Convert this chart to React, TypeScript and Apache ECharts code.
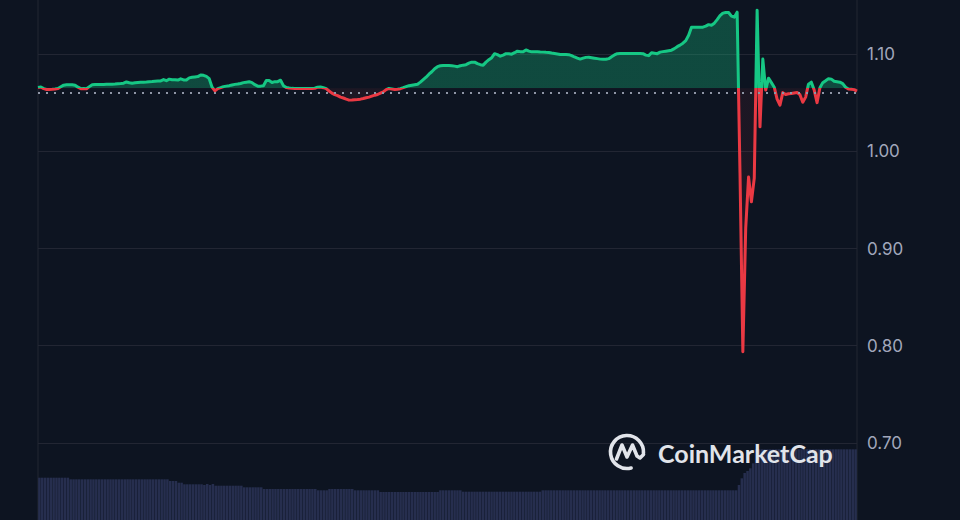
import React, { useEffect, useRef } from "react";
import * as echarts from "echarts";

// Price (USD) every 5 minutes over 24h, in blocks of 6 hours (12 points per hour)
const priceH00to05 = [
  1.0657, 1.0662, 1.0645, 1.0637, 1.0637, 1.0638, 1.0642, 1.0647, 1.0665, 1.0681, 1.0685, 1.0686,
  1.0686, 1.0681, 1.066, 1.0645, 1.0647, 1.0645, 1.0666, 1.0686, 1.0688, 1.0688, 1.0689, 1.0689,
  1.0691, 1.0691, 1.0691, 1.0693, 1.0696, 1.0698, 1.0701, 1.0714, 1.0706, 1.0701, 1.0706, 1.0709,
  1.0712, 1.0712, 1.0714, 1.0717, 1.0719, 1.0722, 1.0724, 1.0725, 1.0739, 1.0727, 1.0743, 1.0737,
  1.0737, 1.0733, 1.0746, 1.0735, 1.0735, 1.0756, 1.0762, 1.0766, 1.0769, 1.0786, 1.0782, 1.0771,
  1.0748, 1.066, 1.0622, 1.0645, 1.0655, 1.0666, 1.0671, 1.0676, 1.0683, 1.0689, 1.0693, 1.0698,
];
const priceH06to11 = [
  1.0707, 1.0712, 1.0717, 1.0707, 1.0686, 1.0671, 1.0671, 1.0676, 1.0728, 1.0728, 1.0709, 1.0717,
  1.0717, 1.0732, 1.0676, 1.0656, 1.0651, 1.0648, 1.0647, 1.0646, 1.0647, 1.0646, 1.0647, 1.0646,
  1.0646, 1.0649, 1.066, 1.0662, 1.0655, 1.0645, 1.0621, 1.0599, 1.0583, 1.0573, 1.0558, 1.0549,
  1.0537, 1.0527, 1.0529, 1.0532, 1.0534, 1.0537, 1.0544, 1.0552, 1.0558, 1.0568, 1.0578, 1.0585,
  1.0599, 1.0612, 1.0635, 1.0647, 1.0642, 1.0637, 1.064, 1.0645, 1.0655, 1.0666, 1.0676, 1.0681,
  1.0686, 1.0691, 1.0712, 1.0737, 1.0763, 1.0794, 1.0819, 1.085, 1.0871, 1.0881, 1.0884, 1.0883,
];
const priceH12to17 = [
  1.0883, 1.0881, 1.0877, 1.0871, 1.0881, 1.0887, 1.0892, 1.0907, 1.0918, 1.0918, 1.0902, 1.0892,
  1.0887, 1.0918, 1.0943, 1.0964, 1.1005, 1.0995, 1.0979, 1.099, 1.1005, 1.1005, 1.1, 1.1015,
  1.1031, 1.1026, 1.1024, 1.1044, 1.1031, 1.1024, 1.1026, 1.1026, 1.1023, 1.1021, 1.1019, 1.1018,
  1.1012, 1.1007, 1.1002, 1.0997, 1.0997, 1.0997, 1.0995, 1.0985, 1.0971, 1.0959, 1.0949, 1.0959,
  1.0967, 1.0969, 1.0964, 1.0959, 1.0954, 1.0949, 1.0947, 1.0947, 1.0954, 1.0974, 1.0992, 1.1005,
  1.1007, 1.1007, 1.1007, 1.1007, 1.1007, 1.1007, 1.1007, 1.1007, 1.1005, 1.099, 1.0985, 1.1015,
];
const priceH18to23 = [
  1.101, 1.1005, 1.1021, 1.1026, 1.1031, 1.1036, 1.1041, 1.1057, 1.1077, 1.1093, 1.1113, 1.1139,
  1.1195, 1.1278, 1.1278, 1.1278, 1.1278, 1.1278, 1.1288, 1.1304, 1.1298, 1.1319, 1.1355, 1.1396,
  1.1422, 1.1429, 1.1429, 1.1391, 1.1381, 1.1432, 0.9776, 0.7937, 0.921, 0.9735, 0.948, 0.9724,
  1.1453, 1.0252, 1.0949, 1.063, 1.0753, 1.0707, 1.066, 1.0537, 1.0475, 1.0604, 1.0585, 1.0593,
  1.0596, 1.0601, 1.0606, 1.0583, 1.0506, 1.0558, 1.0691, 1.0712, 1.063, 1.0501, 1.0655, 1.0707,
  1.0727, 1.0748, 1.0743, 1.0722, 1.0717, 1.0712, 1.0697, 1.066, 1.0642, 1.064, 1.0635, 1.0619,
];

// Rolling 24h volume (millions USD), same 5-minute steps
const volumeH00to05 = [
  42.3, 42.3, 42.3, 42.3, 42.3, 42.3, 42.3, 42.3, 42.3, 42.3, 42.3, 40.7,
  40.7, 40.7, 40.7, 40.7, 40.7, 40.7, 40.7, 40.7, 40.7, 40.7, 40.7, 40.7,
  40.7, 40.7, 40.7, 40.7, 40.7, 40.7, 40.7, 40.7, 40.7, 40.7, 40.7, 40.7,
  40.7, 40.7, 40.7, 40.7, 40.7, 40.7, 40.7, 40.7, 40.7, 40.7, 39, 39,
  39, 37.3, 37.3, 35.7, 35.7, 35.7, 35.7, 35.7, 35.7, 35.7, 35, 36,
  35, 36, 34.3, 34.3, 34.3, 34.3, 34.3, 34.3, 34.3, 34.3, 34.3, 34.3,
];
const volumeH06to11 = [
  32.7, 32.7, 32.7, 32.7, 32.7, 32.7, 32.7, 31, 31, 31, 31, 31,
  31, 31, 31, 31, 31, 31, 31, 31, 31, 31, 31, 31,
  31, 31, 29.7, 29.7, 29.7, 29.7, 31, 31, 31, 31, 31, 31,
  31, 31, 31, 29.7, 29.7, 29.7, 29.7, 29.7, 29.7, 29.7, 29.7, 29.7,
  28, 28, 28, 28, 28, 28, 28, 28, 28, 28, 28, 28,
  28, 28, 28, 28, 28, 28, 28, 28, 28, 29.7, 29.7, 29.7,
];
const volumeH12to17 = [
  29.7, 29.7, 29.7, 29.7, 29.7, 28.3, 28.3, 28.3, 28.3, 28.3, 28.3, 28.3,
  28.3, 28.3, 28.3, 28.3, 28.3, 28.3, 28.3, 28.3, 28.3, 28.3, 28.3, 28.3,
  28.3, 28.3, 28.3, 28.3, 28.3, 28.3, 28.3, 28.3, 28.3, 29.7, 29.7, 29.7,
  29.7, 29.7, 29.7, 29.7, 29.7, 29.7, 29.7, 29.7, 29.7, 29.7, 29.7, 29.7,
  29.7, 29.7, 29.7, 29.7, 29.7, 29.7, 29.7, 29.7, 29.7, 29.7, 29.7, 29.7,
  29.7, 29.7, 29.7, 29.7, 29.7, 29.7, 29.7, 29.7, 29.7, 29.7, 29.7, 29.7,
];
const volumeH18to23 = [
  29.7, 29.7, 29.7, 29.7, 29.7, 29.7, 29.7, 29.7, 29.7, 29.7, 29.7, 29.7,
  29.7, 29.7, 29.7, 29.7, 29.7, 29.7, 29.7, 29.7, 29.7, 29.7, 29.7, 29.7,
  29.7, 29.7, 29.7, 29.7, 29.7, 29.7, 35, 41.7, 47, 49, 51.7, 56.7,
  70.7, 70.7, 70.7, 70.7, 70.7, 70.7, 70.7, 70.7, 70.7, 70.7, 70.7, 70.7,
  70.7, 70.7, 70.7, 70.7, 70.7, 70.7, 70.7, 70.7, 70.7, 70.7, 70.7, 70.7,
  70.7, 70.7, 70.7, 70.7, 70.7, 70.7, 70.7, 70.7, 70.7, 70.7, 70.7, 70.7,
];

const openPrice = 1.065; // reference (24h open) price, dotted baseline
const priceAxisMin = 0.6;
const priceAxisMax = 1.2;
const priceAxisStep = 0.1;
const volumeAxisMax = 100;

const prices = [...priceH00to05, ...priceH06to11, ...priceH12to17, ...priceH18to23];
const volumes = [...volumeH00to05, ...volumeH06to11, ...volumeH12to17, ...volumeH18to23];
const times: string[] = prices.map((_, i) => {
  const m = i * 5;
  const hh = String(Math.floor(m / 60)).padStart(2, "0");
  const mm = String(m % 60).padStart(2, "0");
  return `${hh}:${mm}`;
});

const BG = "#0d1421";
const GRID = "#222633";
const GREEN = "#16c784";
const RED = "#ea3943";
const MARK = "#e1e4ea";

export default function App() {
  const ref = useRef<HTMLDivElement>(null);
  useEffect(() => {
    if (!ref.current) return;
    const chart = echarts.init(ref.current, null, { renderer: "svg" });
    const cx = 627;
    const cy = 452;
    chart.setOption({
      animation: false,
      backgroundColor: BG,
      grid: [
        {
          left: 38,
          right: 103,
          top: -43,
          bottom: -20,
          containLabel: false,
          outerBoundsMode: "none",
          show: true,
          borderColor: GRID,
          borderWidth: 1,
          backgroundColor: "transparent",
        },
        { left: 38, right: 103, top: 420, bottom: 0, containLabel: false, outerBoundsMode: "none" },
      ],
      xAxis: [
        { type: "category", gridIndex: 0, data: times, boundaryGap: false, show: false },
        { type: "category", gridIndex: 1, data: times, boundaryGap: true, show: false },
      ],
      yAxis: [
        {
          type: "value",
          gridIndex: 0,
          position: "right",
          min: priceAxisMin,
          max: priceAxisMax,
          interval: priceAxisStep,
          axisLine: { show: false },
          axisTick: { show: false },
          axisLabel: {
            color: "#a1a7bb",
            fontSize: 17,
            fontFamily: "Inter",
            margin: 10,
            showMinLabel: false,
            showMaxLabel: false,
            formatter: (v: number) => v.toFixed(2),
          },
          splitLine: { lineStyle: { color: GRID, width: 1 } },
        },
        { type: "value", gridIndex: 1, min: 0, max: volumeAxisMax, show: false, splitLine: { show: false } },
      ],
      visualMap: [
        {
          type: "piecewise",
          show: false,
          seriesIndex: 0,
          dimension: 1,
          pieces: [
            { gt: openPrice, lte: 10, color: "rgba(22,199,132,0.30)" },
            { gte: 0, lte: openPrice, color: "rgba(234,57,67,0.07)" },
          ],
        },
        {
          type: "piecewise",
          show: false,
          seriesIndex: 1,
          dimension: 1,
          pieces: [
            { gt: openPrice, lte: 10, color: GREEN },
            { gte: 0, lte: openPrice, color: RED },
          ],
        },
      ],
      series: [
        {
          type: "line",
          xAxisIndex: 0,
          yAxisIndex: 0,
          data: prices,
          symbol: "none",
          silent: true,
          lineStyle: { width: 0, opacity: 0 },
          areaStyle: { origin: openPrice, opacity: 1 },
          z: 1,
        },
        {
          type: "line",
          xAxisIndex: 0,
          yAxisIndex: 0,
          data: prices,
          symbol: "none",
          silent: true,
          lineStyle: { width: 3, join: "round" },
          z: 3,
          markLine: {
            silent: true,
            symbol: ["none", "none"],
            label: { show: false },
            lineStyle: { color: "#8f96a6", type: [2, 6], width: 2 },
            data: [{ yAxis: openPrice }],
          },
        },
        {
          type: "bar",
          xAxisIndex: 1,
          yAxisIndex: 1,
          data: volumes,
          silent: true,
          barCategoryGap: "12%",
          itemStyle: { color: "#262e4e" },
          z: 1,
        },
      ],
      graphic: [
        {
          type: "arc",
          z: 100,
          shape: { cx, cy, r: 16.5, startAngle: Math.PI * 0.42, endAngle: Math.PI * 2.02, clockwise: true },
          style: { stroke: MARK, lineWidth: 3.6, fill: "none", lineCap: "round" },
        },
        {
          type: "polyline",
          z: 100,
          shape: {
            points: [
              [cx - 10.5, cy + 7],
              [cx - 5, cy - 7],
              [cx, cy + 5],
              [cx + 5.5, cy - 7],
              [cx + 10, cy + 4],
              [cx + 13, cy + 6],
              [cx + 16.5, cy + 2.5],
            ],
          },
          style: { stroke: MARK, lineWidth: 3.6, fill: "none", lineJoin: "round", lineCap: "round" },
        },
        {
          type: "text",
          z: 100,
          x: 658,
          y: 453,
          style: {
            text: "CoinMarketCap",
            fill: MARK,
            font: "700 25px Lato",
            verticalAlign: "middle",
            align: "left",
          },
        },
      ],
    });
    return () => chart.dispose();
  }, []);
  return (
    <div
      ref={ref}
      style={{ position: "fixed", left: 0, top: 0, width: 960, height: 520 }}
    />
  );
}
